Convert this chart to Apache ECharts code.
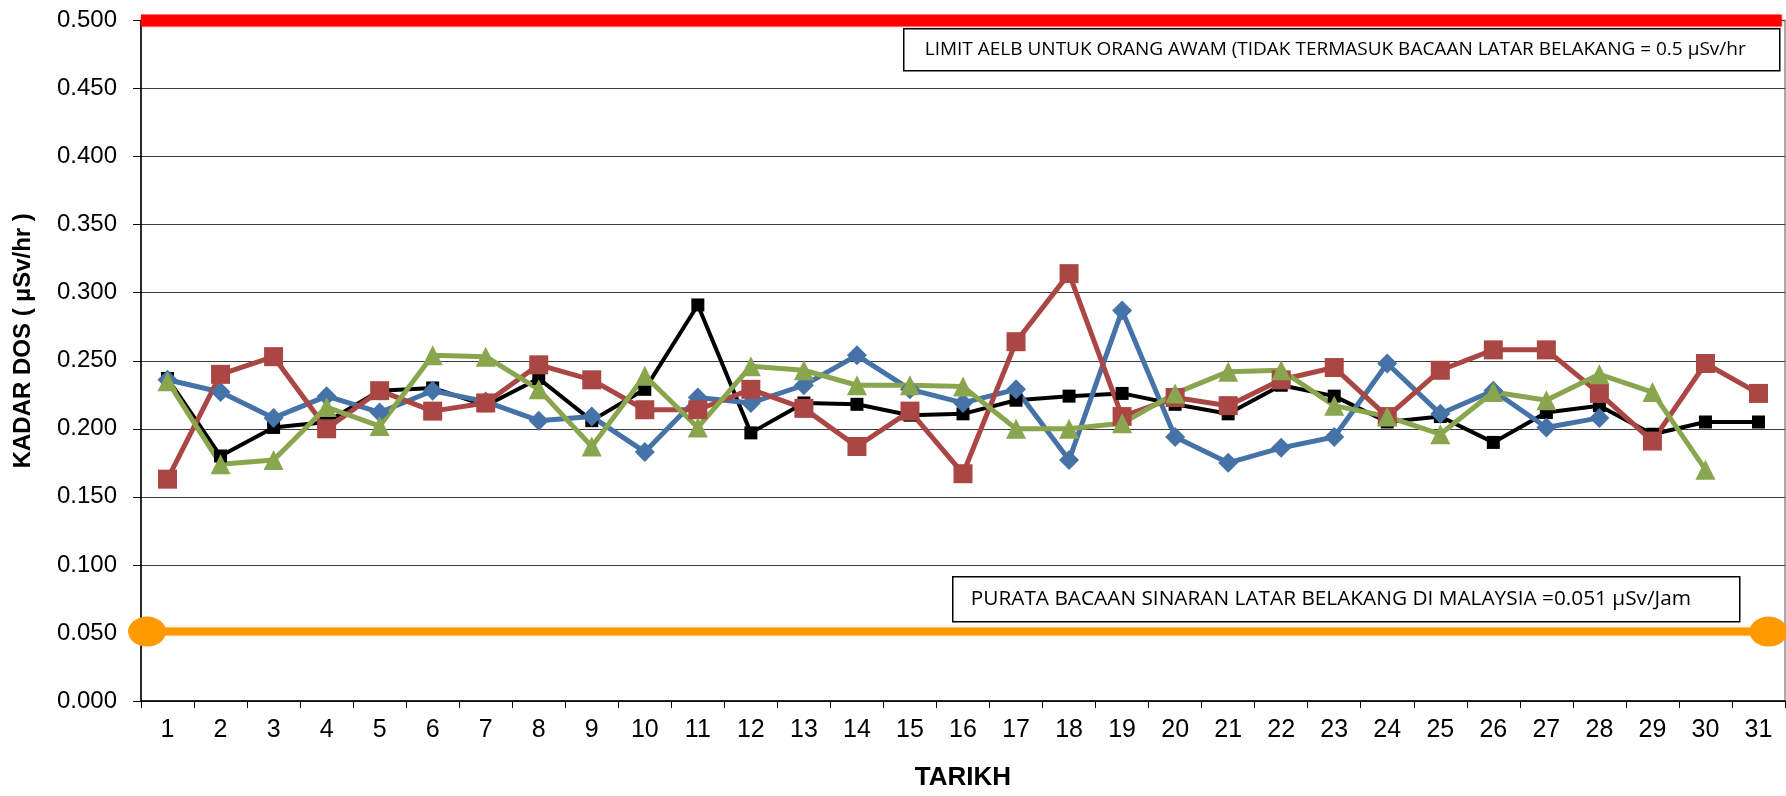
<!DOCTYPE html>
<html>
<head>
<meta charset="utf-8">
<title>Kadar Dos</title>
<script src="https://cdn.jsdelivr.net/npm/echarts@6/dist/echarts.min.js"></script>
<style>
  html, body { margin: 0; padding: 0; background: #fff; }
  #myChart { width: 1786px; height: 796px; }
</style>
</head>
<body>
<div id="myChart"></div>
<script>
// tarikh (hari dalam bulan)
var tarikh = ['1','2','3','4','5','6','7','8','9','10','11','12','13','14','15','16',
              '17','18','19','20','21','22','23','24','25','26','27','28','29','30','31'];

// bacaan kadar dos (uSv/hr) untuk setiap siri
var siriHitam = [0.237,0.180,0.201,0.205,0.228,0.230,0.217,0.237,0.206,0.229,0.291,0.197,0.219,0.218,0.210,0.211,
                 0.221,0.224,0.226,0.218,0.211,0.232,0.224,0.205,0.209,0.190,0.212,0.217,0.196,0.205,0.205];
var siriBiru  = [0.236,0.227,0.208,0.224,0.212,0.228,0.220,0.206,0.209,0.183,0.223,0.219,0.232,0.254,0.229,0.219,
                 0.229,0.177,0.287,0.194,0.175,0.186,0.194,0.248,0.211,0.228,0.201,0.208,null,null,null];
var siriMerah = [0.163,0.240,0.253,0.200,0.228,0.213,0.219,0.247,0.236,0.214,0.214,0.229,0.215,0.187,0.213,0.167,
                 0.264,0.314,0.209,0.223,0.217,0.236,0.245,0.209,0.243,0.258,0.258,0.226,0.191,0.248,0.226];
var siriHijau = [0.235,0.174,0.177,0.216,0.202,0.254,0.253,0.229,0.187,0.239,0.201,0.246,0.243,0.232,0.232,0.231,
                 0.200,0.200,0.204,0.226,0.242,0.243,0.217,0.209,0.196,0.227,0.221,0.240,0.227,0.170,null];

// garisan rujukan
var limitAelb = 0.5;     // had AELB untuk orang awam
var purataLatar = 0.051; // purata bacaan latar belakang Malaysia

// paksi Y
var yMin = 0, yMax = 0.5, yStep = 0.05;

var myChart = echarts.init(document.getElementById('myChart'));

function siri(nama, data, warna, simbol, saiz, tebal) {
  return {
    name: nama,
    type: 'line',
    data: data,
    symbol: simbol,
    symbolSize: saiz,
    showAllSymbol: true,
    connectNulls: false,
    itemStyle: { color: warna },
    lineStyle: { color: warna, width: tebal },
    z: 3
  };
}

myChart.setOption({
  animation: false,
  grid: {
    left: 141,
    right: 1,
    top: 20.5,
    bottom: 92,
    show: true,
    borderColor: '#8c8c8c',
    borderWidth: 1.5
  },
  xAxis: [
    {
      type: 'category',
      data: tarikh,
      boundaryGap: true,
      name: 'TARIKH',
      nameLocation: 'middle',
      nameGap: 64,
      nameTextStyle: { fontFamily: 'Liberation Sans', fontSize: 26, fontWeight: 'bold', color: '#000' },
      axisLine: { lineStyle: { color: '#000', width: 1.5 } },
      axisTick: { show: true, length: 7, lineStyle: { color: '#000' } },
      axisLabel: { fontFamily: 'Liberation Sans', fontSize: 25, color: '#000', margin: 17 },
      splitLine: { show: false }
    },
    {
      // paksi tersembunyi untuk garisan rujukan yang merentasi seluruh plot
      type: 'value',
      min: 0,
      max: 1,
      show: false
    }
  ],
  yAxis: {
    type: 'value',
    min: yMin,
    max: yMax,
    interval: yStep,
    name: 'KADAR DOS ( µSv/hr )',
    nameLocation: 'middle',
    nameGap: 106,
    nameTextStyle: { fontFamily: 'Liberation Sans', fontSize: 24, fontWeight: 'bold', color: '#000', padding: [0, 0, 0, 40] },
    axisLine: { show: true, lineStyle: { color: '#000', width: 1.5 } },
    axisTick: { show: true, length: 8, lineStyle: { color: '#000' } },
    axisLabel: {
      fontFamily: 'Liberation Sans',
      fontSize: 24,
      color: '#000',
      margin: 24,
      formatter: function (v) { return v.toFixed(3); }
    },
    splitLine: { lineStyle: { color: '#3a3a3a', width: 1 } }
  },
  series: [
    siri('Siri 1', siriHitam, '#000000', 'rect', 13, 4),
    siri('Siri 2', siriBiru, '#4572A7', 'diamond', 20, 5),
    siri('Siri 3', siriMerah, '#AA4643', 'rect', 19, 5),
    siri('Siri 4', siriHijau, '#89A54E', 'triangle', 20, 5),
    {
      name: 'Limit AELB',
      type: 'line',
      xAxisIndex: 1,
      data: [[0, limitAelb], [0.998, limitAelb]],
      showSymbol: false,
      clip: false,
      lineStyle: { color: '#ff0000', width: 12, shadowColor: 'rgba(255,0,0,0.45)', shadowBlur: 3 },
      z: 4
    },
    {
      name: 'Purata latar belakang',
      type: 'line',
      xAxisIndex: 1,
      data: [[0.0037, purataLatar], [0.990, purataLatar]],
      symbol: 'circle',
      symbolSize: [38, 30],
      showAllSymbol: true,
      clip: false,
      itemStyle: { color: '#ff9900' },
      lineStyle: { color: '#ff9900', width: 8, shadowColor: 'rgba(255,153,0,0.45)', shadowBlur: 3 },
      z: 4
    }
  ],
  graphic: [
    {
      type: 'group',
      left: 903,
      top: 28,
      z: 10,
      children: [
        { type: 'rect', shape: { x: 0, y: 0, width: 876, height: 42 },
          style: { fill: '#fff', stroke: '#000', lineWidth: 1.5 } },
        { type: 'text', x: 21, y: 21,
          style: { text: 'LIMIT AELB UNTUK ORANG AWAM (TIDAK TERMASUK BACAAN LATAR BELAKANG = 0.5 µSv/hr',
                   font: '19px "Open Sans"', fill: '#000', verticalAlign: 'middle' } }
      ]
    },
    {
      type: 'group',
      left: 952,
      top: 576,
      z: 10,
      children: [
        { type: 'rect', shape: { x: 0, y: 0, width: 787, height: 45 },
          style: { fill: '#fff', stroke: '#000', lineWidth: 1.5 } },
        { type: 'text', x: 18, y: 22.5,
          style: { text: 'PURATA BACAAN SINARAN LATAR BELAKANG DI MALAYSIA =0.051 µSv/Jam',
                   font: '20.8px "Open Sans"', fill: '#000', verticalAlign: 'middle' } }
      ]
    }
  ]
});
</script>
</body>
</html>
